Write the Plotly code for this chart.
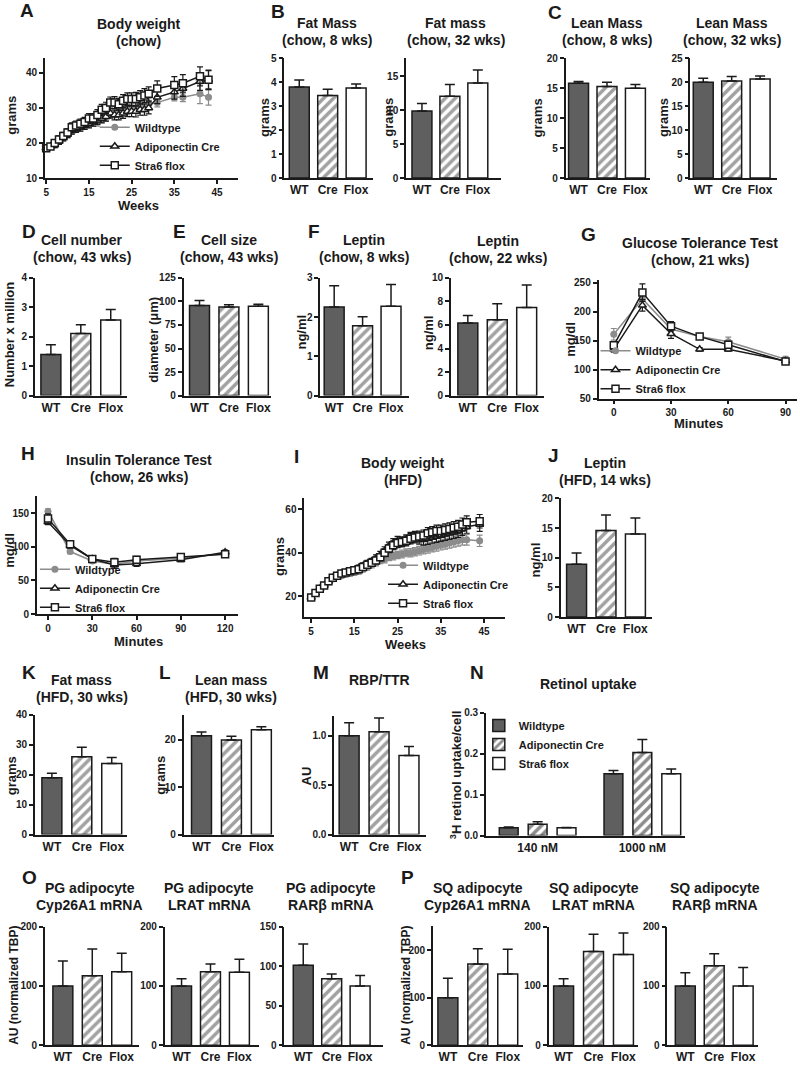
import plotly.graph_objects as go

# ---------------- data ----------------
GENO = ["WT", "Cre", "Flox"]
GROUPS = ["Wildtype", "Adiponectin Cre", "Stra6 flox"]

# A  body weight, chow
chow_weeks = [5, 6, 7, 8, 9, 10, 11, 12, 13, 14, 15, 16, 17, 18, 19, 20, 21, 22, 23, 24,
              25, 26, 27, 28, 29, 31, 35, 37, 41, 43]
chow_wt = [18.5, 19, 19.5, 20.5, 21.5, 22.5, 23.5, 24, 24.5, 25, 25.5, 26, 26, 27, 27.5, 28.5,
           28.5, 29, 29.5, 29.5, 30, 30, 30.5, 30.5, 31, 31.5, 33, 33, 34, 33]
chow_wt_err = [0.8, 0.8, 0.8, 0.9, 0.9, 1.0, 1.0, 1.0, 1.1, 1.1, 1.1, 1.2, 1.2, 1.2, 1.3, 1.3,
               1.3, 1.4, 1.4, 1.4, 1.5, 1.5, 1.5, 1.6, 1.6, 1.2, 1.0, 1.2, 2.8, 2.2]
chow_cre = [18.5, 19, 19.5, 20.5, 21.5, 22.5, 23.5, 24, 24.5, 25, 25.5, 26, 26.5, 27, 27.5, 28.5,
            28, 28, 28.5, 29, 29, 29, 29.5, 29.5, 30, 33, 34.5, 35.5, 37.5, 38]
chow_cre_err = [0.7, 0.8, 0.8, 0.9, 0.9, 1.0, 1.0, 1.0, 1.1, 1.1, 1.2, 1.2, 1.2, 1.3, 1.3, 1.4,
                1.4, 1.4, 1.5, 1.5, 1.5, 1.6, 1.6, 1.6, 1.7, 1.8, 2.0, 2.2, 2.5, 2.6]
chow_flox = [18.5, 19, 20, 21, 22, 23, 24.5, 25, 25.5, 26, 27, 27, 28, 29.5, 30, 31.5,
             31.5, 31, 32, 32.5, 32.5, 32.5, 33, 33.5, 34, 35.5, 36.5, 37, 39, 38]
chow_flox_err = [0.7, 0.8, 0.9, 1.0, 1.0, 1.1, 1.2, 1.2, 1.3, 1.3, 1.4, 1.4, 1.5, 1.5, 1.6, 1.6,
                 1.7, 1.7, 1.8, 1.8, 1.8, 1.9, 1.9, 2.0, 2.0, 2.2, 2.4, 2.5, 2.7, 2.8]

# B / C  body composition, chow (grams)
fat_8wk, fat_8wk_err = [3.81, 3.45, 3.76], [0.29, 0.26, 0.17]
fat_32wk, fat_32wk_err = [9.87, 12.05, 14.0], [1.1, 1.7, 1.9]
lean_8wk, lean_8wk_err = [15.86, 15.3, 15.0], [0.3, 0.7, 0.65]
lean_32wk, lean_32wk_err = [20.0, 20.3, 20.7], [0.85, 0.9, 0.6]

# D / E / F
cell_number, cell_number_err = [1.40, 2.11, 2.57], [0.33, 0.30, 0.36]
cell_size, cell_size_err = [95.8, 94.1, 94.8], [5.2, 2.4, 2.1]
leptin_8wk, leptin_8wk_err = [2.26, 1.78, 2.28], [0.54, 0.23, 0.55]
leptin_22wk, leptin_22wk_err = [6.17, 6.45, 7.49], [0.63, 1.35, 1.9]

# G  glucose tolerance test
gtt_min = [0, 15, 30, 45, 60, 90]
gtt_wt, gtt_wt_err = [161, 222, 170, 157, 148, 118], [10, 10, 8, 5, 8, 5]
gtt_cre, gtt_cre_err = [135, 211, 162, 135, 135, 115], [5, 10, 8, 3, 3, 4]
gtt_flox, gtt_flox_err = [142, 233, 175, 157, 143, 114], [6, 15, 8, 5, 6, 4]

# H  insulin tolerance test
itt_min = [0, 15, 30, 45, 60, 90, 120]
itt_wt, itt_wt_err = [153, 93, 79, 74, 79, 83, 90], [3, 3, 3, 4, 3, 3, 3]
itt_cre, itt_cre_err = [137, 102, 82, 73, 75, 81, 92], [4, 4, 3, 5, 4, 3, 3]
itt_flox, itt_flox_err = [142, 104, 82, 77, 81, 85, 89], [7, 4, 3, 6, 5, 4, 3]

# I  body weight, HFD
hfd_weeks = [5, 6, 7, 8, 9, 10, 11, 12, 13, 14, 15, 16, 17, 18, 19, 20, 21, 22, 23, 24,
             25, 26, 27, 28, 29, 30, 31, 32, 33, 34, 35, 36, 37, 38, 39, 40, 41, 44]
hfd_wt = [19.5, 21.5, 23.5, 25, 26.5, 28, 29, 29.5, 30, 30.5, 31, 31.5, 32.5, 33.5, 34.5, 35.5,
          36.5, 37, 38, 38.5, 39, 39.5, 40, 40, 40.5, 41, 41.5, 42, 42.5, 43, 43.5, 44, 44.5,
          45, 45.5, 46, 46, 45.5]
hfd_wt_err = [0.8, 0.8, 0.9, 0.9, 1.0, 1.0, 1.0, 1.1, 1.1, 1.2, 1.2, 1.3, 1.3, 1.4, 1.4, 1.5,
              1.5, 1.6, 1.6, 1.7, 1.7, 1.8, 1.8, 1.9, 1.9, 2.0, 2.0, 2.1, 2.1, 2.2, 2.2, 2.3,
              2.3, 2.4, 2.4, 2.5, 2.5, 2.6]
hfd_cre = [19.5, 21.5, 23.5, 25, 27, 28.5, 29.5, 30.5, 31, 31.5, 32, 33, 34, 35, 36, 37.5,
           39, 41, 43, 44.5, 45.5, 45, 46, 47, 47.5, 46.5, 46, 46.5, 47, 47.5, 48, 48.5, 49,
           49.5, 50, 51, 52, 53]
hfd_cre_err = [0.8, 0.9, 0.9, 1.0, 1.0, 1.1, 1.1, 1.2, 1.2, 1.3, 1.3, 1.4, 1.4, 1.5, 1.5, 1.6,
               1.7, 1.8, 1.9, 2.0, 2.1, 2.2, 2.3, 2.4, 2.4, 2.5, 2.5, 2.6, 2.6, 2.7, 2.7, 2.8,
               2.8, 2.9, 2.9, 3.0, 3.0, 3.1]
hfd_flox = [19.5, 21.5, 23.5, 25, 27, 28.5, 29.5, 30.5, 31, 31.5, 32, 32.5, 33.5, 34.5, 35.5,
            36.5, 38, 40, 42, 43.5, 44.5, 45, 45.5, 46.5, 47, 47.5, 48, 49, 49.5, 50, 50, 50.5,
            51, 51.5, 52, 53, 54, 54.5]
hfd_flox_err = [0.8, 0.9, 0.9, 1.0, 1.0, 1.1, 1.1, 1.2, 1.2, 1.3, 1.3, 1.4, 1.4, 1.5, 1.5, 1.6,
                1.7, 1.8, 1.9, 2.0, 2.1, 2.2, 2.3, 2.4, 2.4, 2.5, 2.5, 2.6, 2.6, 2.7, 2.7, 2.8,
                2.8, 2.9, 2.9, 3.0, 3.0, 3.1]

# J / K / L / M  HFD
leptin_hfd, leptin_hfd_err = [8.9, 14.6, 14.0], [1.9, 2.6, 2.7]
fat_hfd, fat_hfd_err = [19.0, 26.0, 23.8], [1.5, 3.2, 2.0]
lean_hfd, lean_hfd_err = [20.8, 19.9, 22.1], [0.8, 0.8, 0.6]
rbp_ttr, rbp_ttr_err = [1.0, 1.04, 0.80], [0.13, 0.14, 0.09]

# N  retinol uptake
uptake_conc = ["140 nM", "1000 nM"]
uptake_wt, uptake_wt_err = [0.019, 0.151], [0.002, 0.008]
uptake_cre, uptake_cre_err = [0.028, 0.203], [0.006, 0.032]
uptake_flox, uptake_flox_err = [0.019, 0.151], [0.001, 0.012]

# O / P  adipocyte mRNA (AU, normalized TBP)
pg_cyp, pg_cyp_err = [100, 117, 124], [42, 45, 31]
pg_lrat, pg_lrat_err = [100, 124, 123], [12, 13, 22]
pg_rarb, pg_rarb_err = [101, 84, 75], [27, 6, 13]
sq_cyp, sq_cyp_err = [100, 171, 150], [41, 32, 52]
sq_lrat, sq_lrat_err = [100, 158, 153], [12, 29, 36]
sq_rarb, sq_rarb_err = [100, 134, 100], [22, 20, 31]

# ---------------- styling helpers ----------------
W, H = 800, 1069
INK = "#1a1a1a"
DARK = "#5f5f5f"
GREY = "#8c8c8c"
FONT = "Liberation Sans, Arial, sans-serif"
CAT_FONT = dict(family=FONT, size=12, color=INK, weight="bold")

fig = go.Figure()
lay = {}
notes = []


def dom(l, r, t, b):
    return [l / W, r / W], [1 - b / H, 1 - t / H]


def axis(**kw):
    a = dict(showline=True, linecolor=INK, linewidth=1.5, ticks="outside", ticklen=4,
             tickwidth=1.5, tickcolor=INK, showgrid=False, zeroline=False, fixedrange=True,
             tickfont=dict(family=FONT, size=10, color=INK, weight="bold"))
    a.update(kw)
    return a


def axes(n, box, xr, yr, xkw=None, ykw=None):
    s = "" if n == 1 else str(n)
    xd, yd = dom(*box)
    lay["xaxis" + s] = axis(domain=xd, range=xr, anchor="y" + s, **(xkw or {}))
    lay["yaxis" + s] = axis(domain=yd, range=yr, anchor="x" + s, **(ykw or {}))
    return "x" + s, "y" + s


def text(t, x, y, size=14, angle=0):
    notes.append(dict(text=t, x=x / W, y=1 - y / H, xref="paper", yref="paper",
                      showarrow=False, textangle=angle, xanchor="center", yanchor="middle",
                      font=dict(family=FONT, size=size, color=INK, weight="bold")))


def bar_marker(colors, shapes):
    return dict(color=colors, line=dict(color=INK, width=1.5),
                pattern=dict(shape=shapes, fgcolor=INK, bgcolor="white", size=7, solidity=0.5))


def up_err(errs):
    return dict(type="data", symmetric=False, array=errs, arrayminus=[0] * len(errs),
                color=INK, thickness=1.5, width=5)


def bars(n, box, c0, c2, ymax, dtick, vals, errs, fmt=None):
    l, r, t, b = box
    s = (c2 - c0) / 2
    ykw = dict(tick0=0, dtick=dtick)
    if fmt:
        ykw["tickformat"] = fmt
    xa, ya = axes(n, box, [(l - c0) / s, (r - c0) / s], [0, ymax],
                  dict(type="category", ticks="", tickfont=CAT_FONT), ykw)
    fig.add_trace(go.Bar(x=GENO, y=vals, xaxis=xa, yaxis=ya, width=20 / s, showlegend=False,
                         marker=bar_marker([DARK, "white", "white"], ["", "/", ""]),
                         error_y=up_err(errs)))


STYLES = [
    dict(line=dict(color=GREY, width=1.5), marker=dict(symbol="circle", size=7, color=GREY)),
    dict(line=dict(color=INK, width=1.5),
         marker=dict(symbol="triangle-up", size=7, color="white", line=dict(color=INK, width=1.5))),
    dict(line=dict(color=INK, width=1.5),
         marker=dict(symbol="square", size=7, color="white", line=dict(color=INK, width=1.5))),
]
ERR_COL = [GREY, INK, INK]


def lines(n, box, xr, yr, xticks, yticks, x, ys, errs, leg):
    xa, ya = axes(n, box, xr, yr, dict(tickvals=xticks), dict(tickvals=yticks))
    for name, y, e, st, ec in zip(GROUPS, ys, errs, STYLES, ERR_COL):
        fig.add_trace(go.Scatter(x=x, y=y, name=name, mode="lines+markers", xaxis=xa, yaxis=ya,
                                 legend=leg, cliponaxis=False,
                                 error_y=dict(type="data", array=e, color=ec, thickness=1.2, width=3),
                                 **st))


def legend(key, x, y):
    lay[key] = dict(x=x / W, y=1 - y / H, xanchor="left", yanchor="top", bgcolor="rgba(0,0,0,0)",
                    font=dict(family=FONT, size=11, color=INK, weight="bold"),
                    itemwidth=30, tracegroupgap=0, traceorder="normal")


# ---------------- panels ----------------
# row 1
lines(1, (43, 237, 53, 174), [4.7, 50], [10, 44.1], [5, 15, 25, 35, 45], [10, 20, 30, 40],
      chow_weeks, [chow_wt, chow_cre, chow_flox], [chow_wt_err, chow_cre_err, chow_flox_err], "legend")
bars(2, (283, 372, 53, 174), 298, 355, 5, 1, fat_8wk, fat_8wk_err)
bars(3, (405, 500, 53, 174), 421, 477, 17.6, 5, fat_32wk, fat_32wk_err)
bars(4, (565, 650, 53, 174), 578, 635, 20, 5, lean_8wk, lean_8wk_err)
bars(5, (690, 777, 53, 174), 703, 760, 25, 5, lean_32wk, lean_32wk_err)

# row 2
bars(6, (33, 125, 275, 394), 49, 109, 4, 1, cell_number, cell_number_err)
bars(7, (182, 270, 275, 394), 198, 257, 125, 25, cell_size, cell_size_err)
bars(8, (319, 408, 275, 394), 333, 390, 3, 1, leptin_8wk, leptin_8wk_err)
bars(9, (450, 543, 275, 394), 467, 526, 10, 2, leptin_22wk, leptin_22wk_err)
lines(10, (598, 797, 277, 397), [-8, 96], [50, 255], [0, 30, 60, 90], [50, 100, 150, 200, 250],
      gtt_min, [gtt_wt, gtt_cre, gtt_flox], [gtt_wt_err, gtt_cre_err, gtt_flox_err], "legend2")

# row 3
lines(11, (35, 237, 496, 615), [-7.5, 129], [0, 175], [0, 30, 60, 90, 120], [0, 50, 100, 150],
      itt_min, [itt_wt, itt_cre, itt_flox], [itt_wt_err, itt_cre_err, itt_flox_err], "legend3")
lines(12, (303, 504, 498, 618), [3.4, 49.8], [10.5, 65], [5, 15, 25, 35, 45], [20, 40, 60],
      hfd_weeks, [hfd_wt, hfd_cre, hfd_flox], [hfd_wt_err, hfd_cre_err, hfd_flox_err], "legend4")
bars(13, (560, 652, 498, 618), 576, 635, 20, 5, leptin_hfd, leptin_hfd_err)

# row 4
bars(14, (33, 125, 717, 838), 50, 110, 40, 10, fat_hfd, fat_hfd_err)
bars(15, (182, 273, 717, 838), 200, 260, 25.2, 10, lean_hfd, lean_hfd_err)
bars(16, (333, 425, 718, 838), 348, 408, 1.2, 0.5, rbp_ttr, rbp_ttr_err, fmt=".1f")

xa, ya = axes(17, (485, 685, 715, 839), [-0.495, 1.41], [0, 0.3],
              dict(type="category", ticks="", tickfont=CAT_FONT), dict(dtick=0.1, tickformat=".1f"))
for i, (name, y, e, col, shp) in enumerate(zip(
        GROUPS, [uptake_wt, uptake_cre, uptake_flox],
        [uptake_wt_err, uptake_cre_err, uptake_flox_err],
        [DARK, "white", "white"], ["", "/", ""])):
    fig.add_trace(go.Bar(x=uptake_conc, y=y, name=name, xaxis=xa, yaxis=ya, legend="legend5",
                         offset=(i - 1) * 0.276 - 0.09, width=0.18,
                         marker=bar_marker(col, shp), error_y=up_err(e)))

# row 5
bars(18, (43, 137, 931, 1051), 61, 120, 200, 100, pg_cyp, pg_cyp_err)
bars(19, (163, 258, 931, 1051), 180, 238, 200, 100, pg_lrat, pg_lrat_err)
bars(20, (283, 382, 931, 1051), 302, 359, 150, 50, pg_rarb, pg_rarb_err)
bars(21, (432, 522, 930, 1051), 447, 507, 252, 100, sq_cyp, sq_cyp_err)
bars(22, (548, 638, 931, 1051), 563, 623, 200, 100, sq_lrat, sq_lrat_err)
bars(23, (667, 758, 931, 1051), 685, 743, 200, 100, sq_rarb, sq_rarb_err)

# legends
legend("legend", 93, 108)
legend("legend2", 595, 334)
legend("legend3", 33, 555)
legend("legend4", 382, 551)
legend("legend5", 478, 713)

# panel letters
for t, x, y in [("A", 25, 5), ("B", 277, 6), ("C", 554, 7), ("D", 27, 228), ("E", 178, 228),
                ("F", 313, 228), ("G", 588, 231), ("H", 26, 453), ("I", 295, 456),
                ("J", 553, 455), ("K", 27, 674), ("L", 163, 674), ("M", 320, 674),
                ("N", 476, 674), ("O", 28, 881), ("P", 407, 881)]:
    text(t, x, y, size=19)

# panel titles: two lines, placed one by one (17 px apart, as in the reference)
for l1, l2, x, y in [("Body weight", "(chow)", 137, 18),
                     ("Fat Mass", "(chow, 8 wks)", 326, 17),
                     ("Fat mass", "(chow, 32 wks)", 455, 17),
                     ("Lean Mass", "(chow, 8 wks)", 607, 17),
                     ("Lean Mass", "(chow, 32 wks)", 732, 17),
                     ("Cell number", "(chow, 43 wks)", 80, 237),
                     ("Cell size", "(chow, 43 wks)", 228, 237),
                     ("Leptin", "(chow, 8 wks)", 363, 237),
                     ("Leptin", "(chow, 22 wks)", 497, 238),
                     ("Glucose Tolerance Test", "(chow, 21 wks)", 700, 240),
                     ("Insulin Tolerance Test", "(chow, 26 wks)", 137, 459),
                     ("Body weight", "(HFD)", 402, 462),
                     ("Leptin", "(HFD, 14 wks)", 605, 462),
                     ("Fat mass", "(HFD, 30 wks)", 80, 682),
                     ("Lean mass", "(HFD, 30 wks)", 230, 682),
                     ("PG adipocyte", "Cyp26A1 mRNA", 88, 892),
                     ("PG adipocyte", "LRAT mRNA", 208, 892),
                     ("PG adipocyte", "RAR\u03b2 mRNA", 330, 892),
                     ("SQ adipocyte", "Cyp26A1 mRNA", 477, 892),
                     ("SQ adipocyte", "LRAT mRNA", 593, 892),
                     ("SQ adipocyte", "RAR\u03b2 mRNA", 715, 892)]:
    text(l1, x, y, size=14)
    text(l2, x, y + 17, size=14)
text("RBP/TTR", 378, 682, size=14)
text("Retinol uptake", 588, 686, size=14)

# axis titles
for t, x, y in [("grams", 10, 110), ("grams", 263, 113), ("grams", 388, 113),
                ("grams", 537, 113), ("grams", 663, 113),
                ("Number x million", 7, 332), ("diameter (\u03bcm)", 152, 338),
                ("ng/ml", 300, 330), ("ng/ml", 427, 330), ("mg/dl", 570, 337),
                ("mg/dl", 8, 550), ("grams", 278, 557), ("ng/ml", 535, 560),
                ("grams", 9, 778), ("grams", 159, 778), ("AU", 305, 779),
                ("<sup>3</sup>H retinol uptake/cell", 455, 777)]:
    text(t, x, y, size=13, angle=-90)
for t, x, y in [("AU (normalized TBP)", 12, 990), ("AU (normalized TBP)", 405, 990)]:
    text(t, x, y, size=12, angle=-90)

for t, x, y in [("Weeks", 137, 202), ("Minutes", 698, 422), ("Minutes", 137, 643),
                ("Weeks", 405, 646)]:
    text(t, x, y, size=13)

fig.update_layout(**lay)
fig.update_layout(
    width=W, height=H, autosize=False,
    margin=dict(l=0, r=0, t=0, b=0),
    paper_bgcolor="white", plot_bgcolor="white",
    font=dict(family=FONT, color=INK),
    annotations=notes, hovermode=False, barmode="overlay",
)

# the page body carries the browser's default 8px margin; drop it so the figure sits at 0,0
fig.write_html("out.html", config={"displayModeBar": False},
               post_script="document.body.style.margin='0';")
